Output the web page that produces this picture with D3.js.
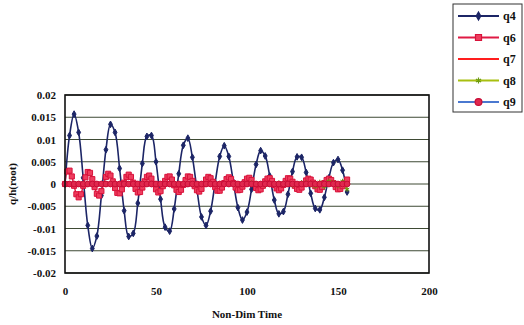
<!DOCTYPE html>
<html>
<head>
<meta charset="utf-8">
<script src="https://cdn.jsdelivr.net/npm/d3@7/dist/d3.min.js"></script>
<style>
  body { margin: 0; background: #fff; }
  svg text { font-family: "Liberation Serif", "Times New Roman", serif; font-weight: bold; fill: #111; }
</style>
</head>
<body>
<svg id="chart" width="524" height="325"></svg>
<script>
'use strict';

// coarse sampling (q4, q7, q8, q9)
const timeCoarse = [0, 2.5, 5, 7.5, 10, 12.5, 15, 17.5, 20, 22.5, 25, 27.5, 30, 32.5, 35, 37.5, 40, 42.5, 45, 47.5,
  50, 52.5, 55, 57.5, 60, 62.5, 65, 67.5, 70, 72.5, 75, 77.5, 80, 82.5, 85, 87.5, 90, 92.5, 95, 97.5,
  100, 102.5, 105, 107.5, 110, 112.5, 115, 117.5, 120, 122.5, 125, 127.5, 130, 132.5, 135, 137.5, 140, 142.5, 145, 147.5,
  150, 152.5, 155];

// fine sampling (q6)
const timeFine = [0, 1.25, 2.5, 3.75, 5, 6.25, 7.5, 8.75, 10, 11.25, 12.5, 13.75, 15, 16.25, 17.5, 18.75, 20, 21.25, 22.5, 23.75,
  25, 26.25, 27.5, 28.75, 30, 31.25, 32.5, 33.75, 35, 36.25, 37.5, 38.75, 40, 41.25, 42.5, 43.75, 45, 46.25, 47.5, 48.75,
  50, 51.25, 52.5, 53.75, 55, 56.25, 57.5, 58.75, 60, 61.25, 62.5, 63.75, 65, 66.25, 67.5, 68.75, 70, 71.25, 72.5, 73.75,
  75, 76.25, 77.5, 78.75, 80, 81.25, 82.5, 83.75, 85, 86.25, 87.5, 88.75, 90, 91.25, 92.5, 93.75, 95, 96.25, 97.5, 98.75,
  100, 101.25, 102.5, 103.75, 105, 106.25, 107.5, 108.75, 110, 111.25, 112.5, 113.75, 115, 116.25, 117.5, 118.75,
  120, 121.25, 122.5, 123.75, 125, 126.25, 127.5, 128.75, 130, 131.25, 132.5, 133.75, 135, 136.25, 137.5, 138.75,
  140, 141.25, 142.5, 143.75, 145, 146.25, 147.5, 148.75, 150, 151.25, 152.5, 153.75, 155];

const q4 = [0, 0.0109, 0.0157, 0.0116, 0.0014, -0.0093, -0.0145, -0.0117, -0.0026, 0.0077, 0.0134, 0.0116, 0.0035, -0.0060, -0.0118, -0.0111, -0.0043, 0.0046, 0.0107, 0.0109,
  0.0050, -0.0034, -0.0097, -0.0106, -0.0056, 0.0023, 0.0087, 0.0103, 0.0060, -0.0012, -0.0074, -0.0093, -0.0061, 0.0003, 0.0062, 0.0086, 0.0062, 0.0005, -0.0053, -0.0081,
  -0.0063, -0.0012, 0.0044, 0.0075, 0.0063, 0.0018, -0.0036, -0.0067, -0.0062, -0.0023, 0.0028, 0.0061, 0.0060, 0.0026, -0.0021, -0.0055, -0.0058, -0.0030, 0.0014, 0.0048,
  0.0055, 0.0031, -0.0018];

const q6 = [0, 0.0028, 0.0030, 0.0017, -0.0004, -0.0023, -0.0030, -0.0023, -0.0004, 0.0015, 0.0027, 0.0025, 0.0011, -0.0007, -0.0022, -0.0026, -0.0016, 0, 0.0016, 0.0023,
  0.0019, 0.0006, -0.0009, -0.0020, -0.0021, -0.0012, 0.0003, 0.0016, 0.0021, 0.0016, 0.0003, -0.0011, -0.0019, -0.0018, -0.0008, 0.0006, 0.0016, 0.0019, 0.0012, 0,
  -0.0012, -0.0019, -0.0016, -0.0005, 0.0007, 0.0016, 0.0017, 0.0010, -0.0003, -0.0013, -0.0018, -0.0013, -0.0002, 0.0009, 0.0017, 0.0016, 0.0007, -0.0005, -0.0014, -0.0017,
  -0.0011, 0, 0.0010, 0.0016, 0.0013, 0.0005, -0.0007, -0.0015, -0.0015, -0.0008, 0.0002, 0.0011, 0.0015, 0.0011, 0.0002, -0.0008, -0.0014, -0.0013, -0.0006, 0.0004,
  0.0012, 0.0014, 0.0009, 0, -0.0009, -0.0014, -0.0012, -0.0004, 0.0006, 0.0012, 0.0013, 0.0007, -0.0002, -0.0010, -0.0014, -0.0010,
  -0.0002, 0.0007, 0.0013, 0.0012, 0.0005, -0.0004, -0.0011, -0.0013, -0.0008, 0, 0.0008, 0.0012, 0.0010, 0.0003, -0.0005, -0.0012,
  -0.0013, -0.0007, 0.0002, 0.0009, 0.0012, 0.0009, 0.0002, -0.0007, -0.0012, -0.0011, -0.0005, 0.0003, 0.0010];

const q7 = [0, 0.0001, 0.0002, 0.0001, 0, -0.0001, -0.0002, -0.0001, 0, 0.0001, 0.0002, 0.0001, 0, -0.0001, -0.0002, -0.0001, 0, 0.0001, 0.0001, 0.0001,
  0, -0.0001, -0.0001, -0.0001, 0, 0.0001, 0.0001, 0.0001, 0, -0.0001, -0.0001, -0.0001, 0, 0.0001, 0.0001, 0, 0, -0.0001, -0.0001, 0,
  0, 0.0001, 0.0001, 0, 0, -0.0001, -0.0001, 0, 0, 0.0001, 0.0001, 0, 0, -0.0001, -0.0001, 0, 0, 0.0001, 0.0001, 0,
  0, -0.0001, -0.0001];

const q8 = [0, 0, 0.0001, 0, 0, 0, -0.0001, 0, 0, 0, 0.0001, 0, 0, 0, -0.0001, 0, 0, 0, 0.0001, 0,
  0, 0, -0.0001, 0, 0, 0.0001, 0.0001, 0, 0, -0.0001, -0.0001, 0, 0, 0.0001, 0.0001, 0, 0, -0.0001, -0.0001, 0,
  0, 0.0002, 0.0001, 0, -0.0002, -0.0001, 0, 0.0002, 0.0001, -0.0001, -0.0003, 0, 0.0003, 0.0002, -0.0002, -0.0005, 0.0004, -0.0006, 0.0006, 0.0003,
  -0.0004, 0.0006, -0.0012];

const q9 = [0, 0, 0, 0, 0, 0, 0, 0, 0, 0, 0, 0, 0, 0, 0, 0, 0, 0, 0, 0,
  0, 0, 0, 0, 0, 0, 0, 0, 0, 0, 0, 0, 0, 0, 0, 0, 0, 0, 0, 0,
  0, 0, 0, 0, 0, 0, 0, 0, 0, 0, 0, 0, 0, 0, 0, 0, 0, 0, 0, 0,
  0, 0, 0];

const seriesNames = ['q4', 'q6', 'q7', 'q8', 'q9'];
const yTicks = [0.02, 0.015, 0.01, 0.005, 0, -0.005, -0.01, -0.015, -0.02];
const xTicks = [0, 50, 100, 150, 200];

const series = [
  { name: 'q4', time: timeCoarse, values: q4, line: '#1c2566', width: 1.6, symbol: d3.symbolDiamond, size: 13, fill: '#1c2566', stroke: '#1c2566' },
  { name: 'q6', time: timeFine, values: q6, line: '#e01a44', width: 1.4, symbol: d3.symbolSquare, size: 26, fill: '#ee3d5e', stroke: '#d8123a' },
  { name: 'q7', time: timeCoarse, values: q7, line: '#ff1e1e', width: 1.8, symbol: null },
  { name: 'q8', time: timeCoarse, values: q8, line: '#a8bf10', width: 1.2, symbol: d3.symbolAsterisk, size: 18, fill: 'none', stroke: '#6c9a10' },
  { name: 'q9', time: timeCoarse, values: q9, line: '#4a78d0', width: 1.2, symbol: d3.symbolCircle, size: 26, fill: '#e0284e', stroke: '#c80c36' }
];

const plot = { left: 65, right: 429, top: 95, bottom: 273 };
const svg = d3.select('#chart');

const x = d3.scaleLinear().domain([0, 200]).range([plot.left, plot.right]);
const y = d3.scaleLinear().domain([-0.02, 0.02]).range([plot.bottom, plot.top]);

const fmt = d => (d === 0 ? '0' : String(+d.toFixed(3)));

//Gridlines
svg.append('g')
  .selectAll('line')
  .data(yTicks)
  .join('line')
  .attr('x1', plot.left)
  .attr('x2', plot.right)
  .attr('y1', d => y(d))
  .attr('y2', d => y(d))
  .attr('stroke', '#3e4a34')
  .attr('stroke-width', 1);

//Y axis labels
const yAxis = svg.append('g')
  .attr('transform', `translate(${plot.left},0)`)
  .call(d3.axisLeft(y).tickValues(yTicks).tickFormat(fmt).tickSize(0).tickPadding(9));
yAxis.select('.domain').remove();
yAxis.selectAll('text').style('font-size', '11px');

//X axis labels
const xAxis = svg.append('g')
  .attr('transform', `translate(0,${plot.bottom})`)
  .call(d3.axisBottom(x).tickValues(xTicks).tickFormat(d3.format('d')).tickSize(0).tickPadding(14));
xAxis.select('.domain').remove();
xAxis.selectAll('text').style('font-size', '11px');

//Series, drawn in legend order so later ones are on top (smoothed like the source)
const lineGen = d3.line().x(d => x(d[0])).y(d => y(d[1])).curve(d3.curveCatmullRom.alpha(0.5));
series.forEach(s => {
  const pts = s.values.map((v, i) => [s.time[i], v]);
  const g = svg.append('g');
  g.append('path')
    .datum(pts)
    .attr('fill', 'none')
    .attr('stroke', s.line)
    .attr('stroke-width', s.width)
    .attr('d', lineGen);
  if (s.symbol) {
    g.selectAll('path.m')
      .data(pts)
      .join('path')
      .attr('class', 'm')
      .attr('transform', d => `translate(${x(d[0])},${y(d[1])})`)
      .attr('d', d3.symbol(s.symbol, s.size))
      .attr('fill', s.fill)
      .attr('stroke', s.stroke)
      .attr('stroke-width', 1);
  }
});

//Plot frame
svg.append('rect')
  .attr('x', plot.left)
  .attr('y', plot.top)
  .attr('width', plot.right - plot.left)
  .attr('height', plot.bottom - plot.top)
  .attr('fill', 'none')
  .attr('stroke', '#111')
  .attr('stroke-width', 1.6);

//Axis titles
svg.append('text')
  .attr('x', (plot.left + plot.right) / 2)
  .attr('y', 318)
  .attr('text-anchor', 'middle')
  .style('font-size', '11px')
  .text('Non-Dim Time');

svg.append('text')
  .attr('transform', `translate(16,${(plot.top + plot.bottom) / 2}) rotate(-90)`)
  .attr('text-anchor', 'middle')
  .style('font-size', '11px')
  .text('q/h(root)');

//Legend
const legend = svg.append('g').attr('transform', 'translate(453,4)');
legend.append('rect')
  .attr('width', 69)
  .attr('height', 108)
  .attr('fill', '#fff')
  .attr('stroke', '#333')
  .attr('stroke-width', 1);

const rowY = d3.scalePoint().domain(seriesNames).range([12, 98]);
series.forEach(s => {
  const ry = rowY(s.name);
  legend.append('line')
    .attr('x1', 5)
    .attr('x2', 46)
    .attr('y1', ry)
    .attr('y2', ry)
    .attr('stroke', s.line)
    .attr('stroke-width', 2);
  if (s.symbol) {
    legend.append('path')
      .attr('transform', `translate(25.5,${ry})`)
      .attr('d', d3.symbol(s.symbol, s.size * 1.4))
      .attr('fill', s.fill)
      .attr('stroke', s.stroke)
      .attr('stroke-width', 1.2);
  }
  legend.append('text')
    .attr('x', 50)
    .attr('y', ry + 4)
    .style('font-size', '12px')
    .text(s.name);
});
</script>
</body>
</html>
